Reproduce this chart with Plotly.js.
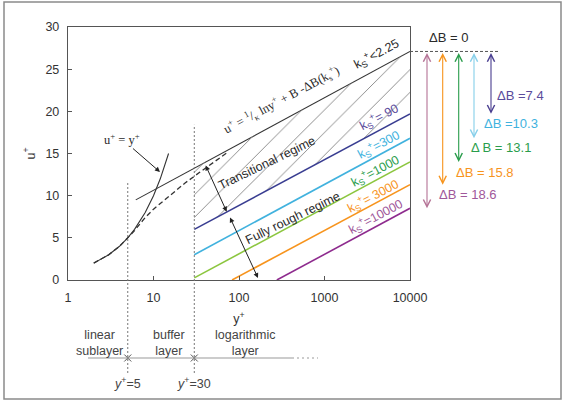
<!DOCTYPE html>
<html><head><meta charset="utf-8">
<script src="https://cdn.plot.ly/plotly-3.0.1.min.js"></script>
<style>html,body{margin:0;padding:0;background:#fff}#chart{width:564px;height:401px}</style>
</head><body><div id="chart"></div>
<script>
// Mean velocity profile in wall units, with the downward shift of the log law for rough walls

// viscous sublayer, u+ = y+
const linearLayerY = [2, 3, 4, 5, 6, 7, 8, 10, 12, 15];
const linearLayerU = [2, 3, 4, 5, 6, 7, 8, 10, 12, 15];
// smooth-wall profile through the buffer layer (dashed)
const profileY = [2, 3, 4, 5, 6, 7, 8, 10, 13.6, 18, 23.4, 35, 50, 75];
const profileU = [2, 3, 4, 4.95, 5.85, 6.7, 7.4, 8.4, 9.5, 10.5, 11.5, 12.8, 13.9, 15.2];
// smooth-wall log law
const logLawY = [6.2, 10000];
const logLawU = [9.5, 27.1];
// upper edge of the transitional (hatched) band
const transitionEdgeY = [30, 10000];
const transitionEdgeU = [13.3, 27.1];
// rough-wall log laws
const ksLabels = ['90', '300', '1000', '3000', '10000'];
const ksText = ['= 90', '=300', '=1000', '= 3000', '=10000'];
const deltaB = [7.4, 10.3, 13.1, 15.8, 18.6];
const deltaBText = ['\u0394B =7.4', '\u0394B =10.3', '\u0394 B = 13.1', '\u0394B = 15.8', '\u0394B = 18.6'];
const roughStartY = [30, 30, 30, 83, 277];
const roughStartU = [6.0, 3.0, 0.25, 0, 0];
const roughEndY = 10000;
// layer boundaries
const layerBounds = [5, 30];
const layerBoundTop = [11.5, 18.4];
const layerNames = ['linear<br>sublayer', 'buffer<br>layer', 'logarithmic<br>layer'];

const lineColors = ['#393d91', '#41b2de', '#8cc63f', '#f7941d', '#8e2b8e'];
const labelColors = ['#5a4b9c', '#41b2de', '#2a9d4c', '#f7941d', '#a0579a'];
const arrowColors = ['#4a3f90', '#86cfea', '#2a9d4c', '#f7941d', '#b57396'];

// plot-area geometry (pixels) and helpers to place things in paper space
const PL = 68, PR = 410, PT = 27, PB = 280;
const fx = p => (p - PL) / (PR - PL);
const fy = p => (PB - p) / (PB - PT);
const lx = v => Math.log10(v) / 4;   // x axis spans 1..10^4
const ly = u => u / 30;              // y axis spans 0..30

const sans = 'Liberation Sans, Arial, sans-serif';
const serif = 'Liberation Serif, Times New Roman, serif';
const ink = '#2a2a2a';
const uTop = logLawU[logLawU.length - 1];

const traces = [];
traces.push({x: linearLayerY, y: linearLayerU, mode: 'lines',
  line: {color: '#333', width: 1.1}});
traces.push({x: profileY, y: profileU, mode: 'lines',
  line: {color: '#333', width: 1.3, dash: '5px,3px'}});
traces.push({x: logLawY, y: logLawU, mode: 'lines',
  line: {color: '#333', width: 1.1}});
ksLabels.forEach((k, i) => {
  traces.push({x: [roughStartY[i], roughEndY], y: [roughStartU[i], uTop - deltaB[i]],
    mode: 'lines', line: {color: lineColors[i], width: 1.6}});
  if (i === 0) {
    // hatched transitional band between the smooth law and k_s+ = 90
    traces.push({x: transitionEdgeY, y: transitionEdgeU, mode: 'lines',
      line: {width: 0, color: 'rgba(0,0,0,0)'}, fill: 'tonexty',
      fillcolor: 'rgba(0,0,0,0)',
      fillpattern: {shape: '/', size: 16, solidity: 0.06, fgcolor: '#8a8a8a', bgcolor: 'rgba(0,0,0,0)'}});
  }
});

const shapes = [];
// frame round the whole figure
shapes.push({type: 'rect', xref: 'paper', yref: 'paper', x0: fx(4), x1: fx(561), y0: fy(399), y1: fy(2),
  line: {color: '#8a8a8a', width: 1.5}});
// Delta B = 0 reference
shapes.push({type: 'line', xref: 'paper', yref: 'paper', x0: 1, x1: fx(500), y0: ly(uTop), y1: ly(uTop),
  line: {color: '#555', width: 1, dash: '3px,2px'}});
// layer boundaries
layerBounds.forEach((b, i) => {
  shapes.push({type: 'line', xref: 'paper', yref: 'paper', x0: lx(b), x1: lx(b), y0: fy(373), y1: ly(layerBoundTop[i]),
    line: {color: '#777', width: 1, dash: '2px,2px'}});
  const cx = lx(b), cy = fy(358), dx = 3.5 / (PR - PL), dy = 3.5 / (PB - PT);
  shapes.push({type: 'line', xref: 'paper', yref: 'paper', x0: cx - dx, x1: cx + dx, y0: cy - dy, y1: cy + dy,
    line: {color: '#555', width: 1}});
  shapes.push({type: 'line', xref: 'paper', yref: 'paper', x0: cx - dx, x1: cx + dx, y0: cy + dy, y1: cy - dy,
    line: {color: '#555', width: 1}});
});
shapes.push({type: 'line', xref: 'paper', yref: 'paper', x0: fx(88), x1: fx(292), y0: fy(358), y1: fy(358),
  line: {color: '#9a9a9a', width: 1.2}});
shapes.push({type: 'line', xref: 'paper', yref: 'paper', x0: fx(292), x1: fx(318), y0: fy(358), y1: fy(358),
  line: {color: '#9a9a9a', width: 1.2, dash: '2px,3px'}});

const ann = [];
const txt = (text, x, y, opts) => Object.assign({text, x: fx(x), y: fy(y), xref: 'paper', yref: 'paper',
  showarrow: false, xanchor: 'center', yanchor: 'middle', font: {family: sans, size: 12.5, color: ink}}, opts || {});

ann.push(Object.assign(txt('u<sup>+</sup> = y<sup>+</sup>', 160, 172), {
  showarrow: true, ax: -38, ay: -33, arrowhead: 2, arrowsize: 1, arrowwidth: 1, arrowcolor: '#222',
  font: {family: serif, size: 12.5, color: ink}}));
ann.push(txt('u<sup>+</sup> = <sup>1</sup>/<sub>\u03BA</sub> lny<sup>+</sup> + B -\u0394B(k<sub>s</sub><sup>+</sup>)', 281, 100,
  {textangle: -28, font: {family: serif, size: 12.5, color: ink}}));
ann.push(txt('k<sub>S</sub><sup>+</sup>&lt;2.25', 376, 54, {textangle: -28}));
ann.push(txt('Transitional regime', 267, 163, {textangle: -26}));
ann.push(txt('Fully rough regime', 293, 218, {textangle: -26}));
// regime extents
ann.push({text: '', x: fx(226.7), y: fy(211.7), xref: 'paper', yref: 'paper', ax: 205 - 226.7, ay: 164 - 211.7,
  showarrow: true, arrowside: 'end+start', arrowhead: 2, startarrowhead: 2, arrowsize: 1, startarrowsize: 1,
  arrowwidth: 1, arrowcolor: '#222'});
ann.push({text: '', x: fx(258), y: fy(278), xref: 'paper', yref: 'paper', ax: 229.3 - 258, ay: 216 - 278,
  showarrow: true, arrowside: 'end+start', arrowhead: 2, startarrowhead: 2, arrowsize: 1, startarrowsize: 1,
  arrowwidth: 1, arrowcolor: '#222'});

// k_s+ labels along each rough-wall line
const ksPos = [[379, 117], [378, 145], [375, 171], [373, 196], [375, 217]];
ksLabels.forEach((k, i) => {
  ann.push(txt('k<sub>S</sub><sup>+</sup>' + ksText[i], ksPos[i][0], ksPos[i][1],
    {textangle: -28, font: {family: sans, size: 12.5, color: labelColors[i]}}));
});

// Delta B arrows and labels
ann.push(txt('\u0394B = 0', 448, 38, {font: {family: sans, size: 13, color: ink}}));
const arrowX = [491, 474, 458.7, 442.7, 427];
const labelPos = [[495, 95], [482, 123], [469, 147], [454, 172], [437, 194]];
deltaB.forEach((d, i) => {
  ann.push({text: '', xref: 'paper', yref: 'y', x: fx(arrowX[i]), y: uTop - d,
    axref: 'pixel', ax: 0, ayref: 'y', ay: uTop,
    showarrow: true, arrowside: 'end+start', arrowhead: 5, startarrowhead: 5,
    arrowsize: 1.3, startarrowsize: 1.3, arrowwidth: 1.1, arrowcolor: arrowColors[i]});
  ann.push(txt(deltaBText[i], labelPos[i][0], labelPos[i][1],
    {xanchor: 'left', font: {family: sans, size: 13, color: labelColors[i]}}));
});

// layer names beneath the axis
const layerNameX = [99, 169, 245];
layerNames.forEach((n, i) => ann.push(txt(n, layerNameX[i], 343, {font: {family: sans, size: 12.5, color: '#444'}})));
layerBounds.forEach(b => ann.push({text: '<i>y</i><sup>+</sup>=' + b, xref: 'paper', yref: 'paper',
  x: lx(b), y: fy(383), showarrow: false, xanchor: 'center', yanchor: 'middle',
  font: {family: sans, size: 12.5, color: '#444'}}));

const axisCommon = {showgrid: false, zeroline: false, showline: true, mirror: true,
  linecolor: '#555', linewidth: 1.2, ticks: 'inside', ticklen: 4, tickcolor: '#555',
  tickfont: {family: sans, size: 12.5, color: '#333'}};

const layout = {
  width: 564, height: 401,
  margin: {l: PL, r: 564 - PR, t: PT, b: 401 - PB},
  paper_bgcolor: '#fff', plot_bgcolor: '#fff', showlegend: false,
  xaxis: Object.assign({}, axisCommon, {type: 'log', range: [0, 4],
    tickvals: [1, 10, 100, 1000, 10000], ticktext: ['1', '10', '100', '1000', '10000'],
    ticklabelstandoff: 6,
    title: {text: 'y<sup>+</sup>', standoff: 10, font: {family: sans, size: 12.5, color: '#333'}}}),
  yaxis: Object.assign({}, axisCommon, {range: [0, 30], tickvals: [0, 5, 10, 15, 20, 25, 30],
    ticklabelstandoff: 5,
    title: {text: 'u<sup>+</sup>', standoff: 7, font: {family: sans, size: 12.5, color: '#333'}}}),
  shapes: shapes,
  annotations: ann
};

Plotly.newPlot('chart', traces, layout, {staticPlot: true, displayModeBar: false});
</script>
</body></html>
